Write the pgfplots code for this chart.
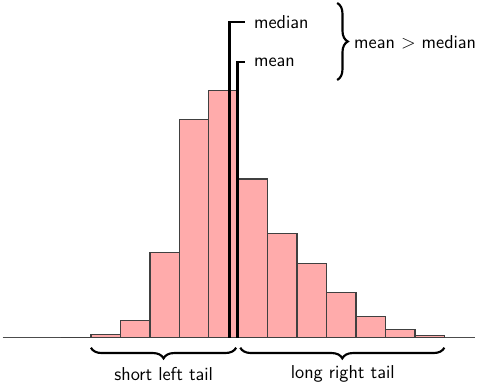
\documentclass[border=0pt]{standalone}
\usepackage{pgfplots}
\pgfplotsset{compat=1.18}
\usetikzlibrary{decorations.pathreplacing}
\begin{document}
\begin{tikzpicture}[font=\sffamily\fontsize{14}{16}\selectfont]
\begin{axis}[
  scale only axis, width=367.5pt, height=294pt,
  xmin=-2.088, xmax=14.55, ymin=-54.3, ymax=337.7,
  hide axis, clip=false,
]
\path (rel axis cs:0,0) rectangle (rel axis cs:1,1);
\addplot[black!70, line width=0.9pt] coordinates {(-2,0) (14.04,0)};
\addplot[ybar interval, fill=red!33, draw=black!75, line width=1pt] coordinates {
(0,0.3) (1,3.4) (2,17) (3,85) (4,218) (5,247.4) (6,158.7) (7,104) (8,74.4) (9,45) (10,21.4) (11,8.4) (12,2.4) (13,0)};
\addplot[black, line width=2.2pt] coordinates {(5.69,0) (5.69,315.7) (6.23,315.7)};
\addplot[black, line width=2.2pt] coordinates {(5.98,0) (5.98,275.7) (6.23,275.7)};
\node[anchor=west] at (axis cs:6.38,315.7) {median};
\node[anchor=west] at (axis cs:6.38,275.7) {mean};
\draw[decorate, decoration={brace, amplitude=8pt}, line width=1.6pt]
  (axis cs:9.36,334.7) -- (axis cs:9.36,257.7);
\node[anchor=west] at (axis cs:9.78,295.7) {mean $>$ median};
\draw[decorate, decoration={brace, mirror, amplitude=8pt}, line width=1.6pt]
  (axis cs:1,-10) -- (axis cs:5.93,-10);
\draw[decorate, decoration={brace, mirror, amplitude=8pt}, line width=1.6pt]
  (axis cs:6.07,-10) -- (axis cs:13,-10);
\node at (axis cs:3.47,-36.3) {short left tail};
\node at (axis cs:9.55,-36.3) {long right tail};
\end{axis}
\end{tikzpicture}
\end{document}
